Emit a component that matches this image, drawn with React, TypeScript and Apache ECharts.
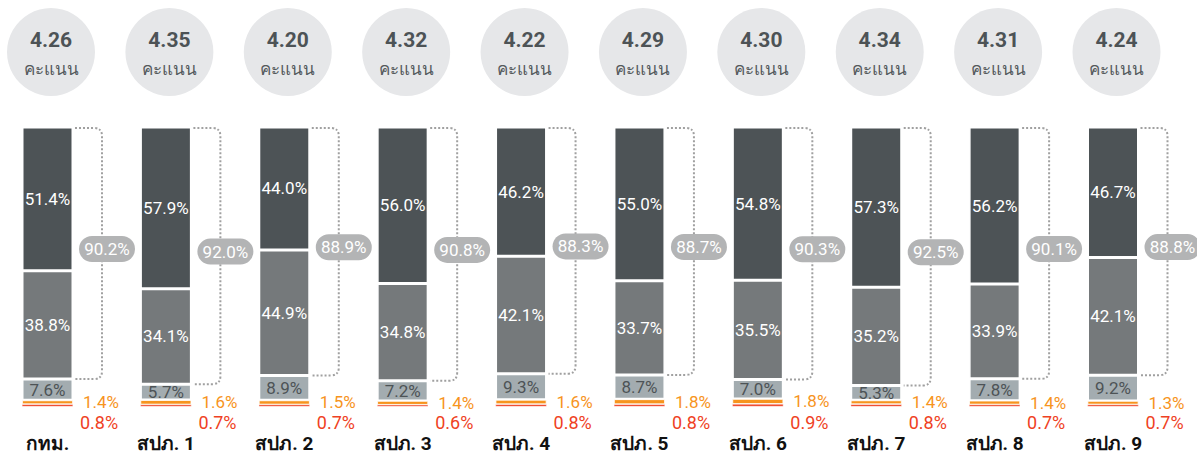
import React, { useEffect, useRef } from "react";
import * as echarts from "echarts";

const categories = ["กทม.", "สปภ. 1", "สปภ. 2", "สปภ. 3", "สปภ. 4", "สปภ. 5", "สปภ. 6", "สปภ. 7", "สปภ. 8", "สปภ. 9"];
const scores = [4.26, 4.35, 4.2, 4.32, 4.22, 4.29, 4.3, 4.34, 4.31, 4.24];
const veryHigh = [51.4, 57.9, 44.0, 56.0, 46.2, 55.0, 54.8, 57.3, 56.2, 46.7];
const high = [38.8, 34.1, 44.9, 34.8, 42.1, 33.7, 35.5, 35.2, 33.9, 42.1];
const medium = [7.6, 5.7, 8.9, 7.2, 9.3, 8.7, 7.0, 5.3, 7.8, 9.2];
const low = [1.4, 1.6, 1.5, 1.4, 1.6, 1.8, 1.8, 1.4, 1.4, 1.3];
const veryLow = [0.8, 0.7, 0.7, 0.6, 0.8, 0.8, 0.9, 0.8, 0.7, 0.7];
const satisfied = [90.2, 92.0, 88.9, 90.8, 88.3, 88.7, 90.3, 92.5, 90.1, 88.8];
const scoreUnit = "คะแนน";

const FONT = "Roboto, 'Noto Sans', sans-serif";
const pct = (p: any) => Number(p.value).toFixed(1) + "%";

export default function App() {
  const ref = useRef<HTMLDivElement>(null);
  useEffect(() => {
    if (!ref.current) return;
    const chart = echarts.init(ref.current, undefined, { renderer: "svg" });
    const barBase = { type: "bar", stack: "total", barWidth: 51 };
    chart.setOption({
      animation: false,
      backgroundColor: "#ffffff",
      textStyle: { fontFamily: FONT },
      grid: { left: 47.5, right: 84, top: 127, bottom: 50.5 },
      xAxis: {
        type: "category",
        data: categories,
        boundaryGap: false,
        axisLine: { show: false },
        axisTick: { show: false },
        splitLine: { show: false },
        axisLabel: { color: "#111111", fontSize: 19, fontWeight: "bold", margin: 27, fontFamily: FONT },
      },
      yAxis: { type: "value", min: 0, max: 100, show: false, splitLine: { show: false } },
      series: [
        {
          ...barBase,
          name: "veryLow",
          data: veryLow,
          itemStyle: { color: "#ef4123", borderColor: "#fff", borderWidth: 0.4 },
          label: { show: true, position: "right", distance: 7, offset: [0, 17], color: "#ef4123", fontSize: 18, formatter: pct, fontFamily: FONT },
        },
        {
          ...barBase,
          name: "low",
          data: low,
          itemStyle: { color: "#f7941d", borderColor: "#fff", borderWidth: 0.8 },
          label: { show: true, position: "right", distance: 10, color: "#f7941d", fontSize: 17, formatter: pct, fontFamily: FONT },
        },
        {
          ...barBase,
          name: "medium",
          data: medium,
          itemStyle: { color: "#a3acb0", borderColor: "#fff", borderWidth: 1.5 },
          label: { show: true, position: "inside", color: "#4d5356", fontSize: 17, formatter: pct, fontFamily: FONT },
        },
        {
          ...barBase,
          name: "high",
          data: high,
          itemStyle: { color: "#75797b", borderColor: "#fff", borderWidth: 1.5 },
          label: { show: true, position: "inside", color: "#ffffff", fontSize: 17, formatter: pct, fontFamily: FONT },
        },
        {
          ...barBase,
          name: "veryHigh",
          data: veryHigh,
          itemStyle: { color: "#4d5356", borderColor: "#fff", borderWidth: 1.5 },
          label: { show: true, position: "inside", color: "#ffffff", fontSize: 17, formatter: pct, fontFamily: FONT },
        },
        {
          type: "custom",
          name: "bracket",
          clip: false,
          silent: true,
          data: satisfied.map((s, i) => [i, s]),
          renderItem: (params: any, api: any) => {
            const i = api.value(0);
            const s = api.value(1);
            const top = api.coord([i, 100]);
            const bot = api.coord([i, 100 - s]);
            const cx = top[0];
            const x0 = cx + 27.5;
            const x1 = cx + 54.5;
            const r = 8;
            const d = `M${x0} ${top[1] + 1} L${x1 - r} ${top[1] + 1} Q${x1} ${top[1] + 1} ${x1} ${top[1] + 1 + r} L${x1} ${bot[1] - r} Q${x1} ${bot[1]} ${x1 - r} ${bot[1]} L${x0} ${bot[1]}`;
            const my = (top[1] + bot[1]) / 2 - 4;
            const px = cx + 59.5;
            return {
              type: "group",
              children: [
                {
                  type: "path",
                  shape: { pathData: d },
                  style: { fill: "none", stroke: "#a0a0a0", lineWidth: 2, lineDash: [2, 2] },
                },
                {
                  type: "rect",
                  shape: { x: px - 28, y: my - 13, width: 56, height: 26, r: 13 },
                  style: { fill: "#b3b4b5" },
                },
                {
                  type: "text",
                  style: {
                    text: s.toFixed(1) + "%",
                    x: px,
                    y: my,
                    fill: "#ffffff",
                    fontSize: 17,
                    fontFamily: FONT,
                    align: "center",
                    verticalAlign: "middle",
                  },
                },
              ],
            };
          },
        },
        {
          type: "custom",
          name: "score",
          clip: false,
          silent: true,
          data: scores.map((v, i) => [i, v]),
          renderItem: (params: any, api: any) => {
            const i = api.value(0);
            const v = api.value(1);
            const top = api.coord([i, 100]);
            const cx = top[0] + 3.5;
            const cy = top[1] - 75;
            return {
              type: "group",
              children: [
                { type: "circle", shape: { cx, cy, r: 44 }, style: { fill: "#e6e7e9" } },
                {
                  type: "text",
                  style: {
                    text: v.toFixed(2),
                    x: cx,
                    y: cy - 12,
                    fill: "#4d5356",
                    fontSize: 21,
                    fontWeight: "bold",
                    fontFamily: FONT,
                    align: "center",
                    verticalAlign: "middle",
                  },
                },
                {
                  type: "text",
                  style: {
                    text: scoreUnit,
                    x: cx,
                    y: cy + 17,
                    fill: "#555a5d",
                    fontSize: 17,
                    fontFamily: FONT,
                    align: "center",
                    verticalAlign: "middle",
                  },
                },
              ],
            };
          },
        },
      ],
    });
    return () => chart.dispose();
  }, []);
  return <div ref={ref} style={{ position: "absolute", left: 0, top: 0, width: 1197, height: 457 }} />;
}
